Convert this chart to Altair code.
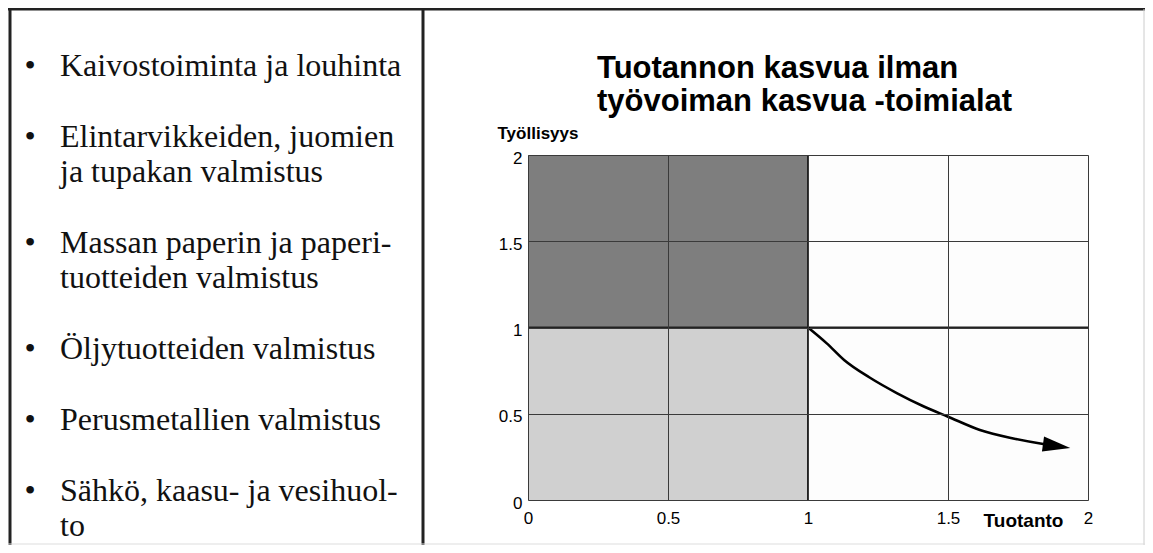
import altair as alt
import pandas as pd

# ---------------- data ----------------
tick_values = [0, 0.5, 1, 1.5, 2]

region_x = [0, 0, 1]
region_x2 = [1, 1, 2]
region_y = [1, 0, 0]
region_y2 = [2, 1, 2]
region_fill = ["#7e7e7e", "#d0d0d0", "#fdfdfd"]

curve_x = [1.0, 1.067, 1.13, 1.22, 1.317, 1.41, 1.5, 1.614, 1.733, 1.84, 1.87]
curve_y = [1.0, 0.908, 0.81, 0.71, 0.62, 0.545, 0.483, 0.406, 0.357, 0.325, 0.318]

arrow_x = [1.888]
arrow_y = [0.313]

title_lines = ["Tuotannon kasvua ilman", "työvoiman kasvua -toimialat"]
y_title = "Työllisyys"
x_title = "Tuotanto"

list_items = [
    ["Kaivostoiminta ja louhinta"],
    ["Elintarvikkeiden, juomien", "ja tupakan valmistus"],
    ["Massan paperin ja paperi-", "tuotteiden valmistus"],
    ["Öljytuotteiden valmistus"],
    ["Perusmetallien valmistus"],
    ["Sähkö, kaasu- ja vesihuol-", "to"],
]

# ---------------- chart ----------------
W, H = 560, 345
PAD = {"left": 520, "top": 147, "right": 57, "bottom": 45}
LH = 35.4

regions = pd.DataFrame({"x": region_x, "x2": region_x2, "y": region_y, "y2": region_y2, "fill": region_fill})
curve = pd.DataFrame({"x": curve_x, "y": curve_y})
arrow = pd.DataFrame({"x": arrow_x, "y": arrow_y})
one = pd.DataFrame({"a": [0]})

xs = alt.Scale(domain=[0, 2], nice=False)
ys = alt.Scale(domain=[0, 2], nice=False)

x_axis = alt.Axis(values=tick_values, grid=True, ticks=False, domain=False, zindex=1, format="~g",
                  gridColor="#3a3a3a", gridWidth=1, labelFont="Liberation Sans", labelFontSize=17,
                  labelColor="#000", labelPadding=10,
                  title=x_title, titleFont="Liberation Sans", titleFontSize=19, titleFontWeight="bold",
                  titleColor="#000", titleX=495, titleY=20, titleBaseline="middle", titleAlign="center",
                  labelFlush=False)
y_axis = alt.Axis(values=tick_values, grid=True, ticks=False, domain=False, zindex=1, format="~g",
                  gridColor="#3a3a3a", gridWidth=1, labelFont="Liberation Sans", labelFontSize=17,
                  labelColor="#000", labelPadding=6, labelOffset=3,
                  title=y_title, titleFont="Liberation Sans", titleFontSize=17, titleFontWeight="bold",
                  titleColor="#000", titleAngle=0, titleX=-31, titleY=-17, titleAlign="left",
                  titleBaseline="alphabetic", labelFlush=False)

rects = alt.Chart(regions).mark_rect(stroke=None).encode(
    x=alt.X("x:Q", scale=xs, axis=x_axis),
    x2="x2:Q",
    y=alt.Y("y:Q", scale=ys, axis=y_axis),
    y2="y2:Q",
    fill=alt.Fill("fill:N", scale=None),
)

strong_h = alt.Chart(one).mark_rule(color="#222", strokeWidth=2).encode(
    x=alt.value(0), x2=alt.value(W), y=alt.datum(1, scale=ys))
strong_v = alt.Chart(one).mark_rule(color="#222", strokeWidth=2).encode(
    x=alt.datum(1, scale=xs), y=alt.value(0), y2=alt.value(H))

line = alt.Chart(curve).mark_line(color="#000", strokeWidth=2.6, interpolate="monotone").encode(
    x=alt.X("x:Q", scale=xs), y=alt.Y("y:Q", scale=ys))

head = alt.Chart(arrow).mark_point(
    shape="M -1 -0.55 L 1 0 L -1 0.55 Z", size=760, filled=True, color="#000", opacity=1, angle=8
).encode(x=alt.X("x:Q", scale=xs), y=alt.Y("y:Q", scale=ys))

title = alt.Chart(one).mark_text(
    align="left", baseline="alphabetic", font="Liberation Sans", fontSize=31, fontWeight="bold",
    lineHeight=33, color="#000"
).encode(x=alt.value(69), y=alt.value(-77), text=alt.value(title_lines))

# bullet list: each item one text block, one blank line between items
list_layers = []
line_index = 0
for item in list_items:
    y_px = -79 + line_index * LH
    list_layers.append(alt.Chart(one).mark_text(
        align="left", baseline="alphabetic", font="Liberation Serif", fontSize=32,
        lineHeight=LH, color="#111"
    ).encode(x=alt.value(-468), y=alt.value(y_px), text=alt.value(item)))
    list_layers.append(alt.Chart(one).mark_text(
        align="center", baseline="alphabetic", font="Liberation Serif", fontSize=32, color="#111"
    ).encode(x=alt.value(-498), y=alt.value(y_px), text=alt.value("•")))
    line_index += len(item) + 1

frame_top = alt.Chart(one).mark_rule(color="#222", strokeWidth=3).encode(
    x=alt.value(-520), x2=alt.value(W + 57), y=alt.value(-146))
frame_left = alt.Chart(one).mark_rule(color="#222", strokeWidth=3).encode(
    x=alt.value(-518), y=alt.value(-146), y2=alt.value(H + 45))
frame_mid = alt.Chart(one).mark_rule(color="#222", strokeWidth=3).encode(
    x=alt.value(-105), y=alt.value(-146), y2=alt.value(H + 45))
frame_right = alt.Chart(one).mark_rule(color="#ccc", strokeWidth=1).encode(
    x=alt.value(W + 56), y=alt.value(-146), y2=alt.value(H + 45))
frame_bottom = alt.Chart(one).mark_rule(color="#ddd", strokeWidth=1).encode(
    x=alt.value(-520), x2=alt.value(W + 57), y=alt.value(H + 44))

chart = alt.layer(
    rects, strong_h, strong_v, line, head, title, *list_layers,
    frame_top, frame_left, frame_mid, frame_right, frame_bottom,
).properties(
    width=W, height=H, padding=PAD,
    autosize=alt.AutoSizeParams(type="none"),
).configure_view(
    stroke="#555", strokeWidth=1.5,
).configure(background="white")

chart.save("out.html", embed_options={"renderer": "svg", "actions": False})
